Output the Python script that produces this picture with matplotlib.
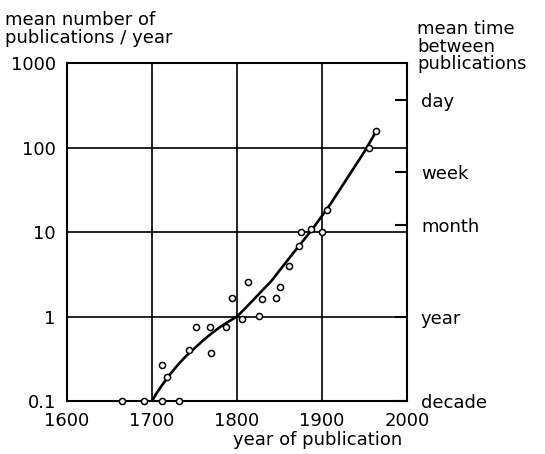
import matplotlib
matplotlib.use("Agg")
import matplotlib.pyplot as plt

# observed publication rates (circles)
years = [1665, 1691, 1712, 1732, 1712, 1718, 1743, 1752, 1768, 1770, 1787,
         1794, 1806, 1813, 1826, 1829, 1846, 1851, 1861, 1873, 1875, 1887,
         1900, 1906, 1955, 1963]
rates = [0.1, 0.1, 0.1, 0.1, 0.27, 0.19, 0.40, 0.76, 0.75, 0.37, 0.76,
         1.67, 0.93, 2.58, 1.02, 1.6, 1.67, 2.25, 3.96, 6.9, 9.9, 10.8,
         10.1, 18.2, 100, 155]

# smooth trend line
trend_years = [1700, 1705, 1710, 1720, 1730, 1740, 1750, 1760, 1770, 1780,
               1790, 1800, 1810, 1820, 1830, 1840, 1850, 1860, 1870, 1880,
               1890, 1900, 1910, 1920, 1930, 1940, 1950, 1962]
trend_rates = [0.1, 0.122, 0.145, 0.2, 0.265, 0.34, 0.42, 0.52, 0.63, 0.75,
               0.87, 1.0, 1.26, 1.6, 2.05, 2.6, 3.5, 4.7, 6.3, 8.4,
               11.3, 15.5, 21.5, 30.7, 43.9, 62.7, 89.6, 145]

# right-hand axis: mean time between publications
time_vals = [365, 52, 12, 1, 0.1]
time_labels = ["day", "week", "month", "year", "decade"]

plt.rcParams["font.family"] = "DejaVu Sans"
plt.rcParams["font.size"] = 13

fig = plt.figure(figsize=(5.45, 4.54), dpi=100)
ax = fig.add_axes([0.1229, 0.1167, 0.6239, 0.7445])

ax.plot(trend_years, trend_rates, color="black", lw=1.9,
        solid_capstyle="round", solid_joinstyle="round")
ax.plot(years, rates, "o", ms=4.4, mfc="white", mec="black", mew=1.1,
        clip_on=False, zorder=5)

ax.set_yscale("log")
ax.set_xlim(1600, 2000)
ax.set_ylim(0.1, 1000)
ax.set_xticks([1600, 1700, 1800, 1900, 2000])
ax.set_yticks([0.1, 1, 10, 100, 1000])
ax.set_yticklabels(["0.1", "1", "10", "100", "1000"])
ax.minorticks_off()
ax.tick_params(length=0, pad=8)
ax.grid(True, color="black", lw=1.2)
for s in ax.spines.values():
    s.set_linewidth(1.5)

ax2 = ax.twinx()
ax2.set_yscale("log")
ax2.set_ylim(0.1, 1000)
ax2.minorticks_off()
ax2.set_yticks(time_vals)
ax2.set_yticklabels(time_labels)
ax2.tick_params(axis="y", direction="in", length=9, width=1.5, pad=10)
for s in ax2.spines.values():
    s.set_visible(False)

fig.text(0.01, 0.975, "mean number of\npublications / year", ha="left",
         va="top", linespacing=1.0)
fig.text(0.765, 0.955, "mean time\nbetween\npublications", ha="left",
         va="top", linespacing=0.95)
fig.text(0.582, 0.03, "year of publication", ha="center", va="center")

fig.savefig("out.png", dpi=100)
